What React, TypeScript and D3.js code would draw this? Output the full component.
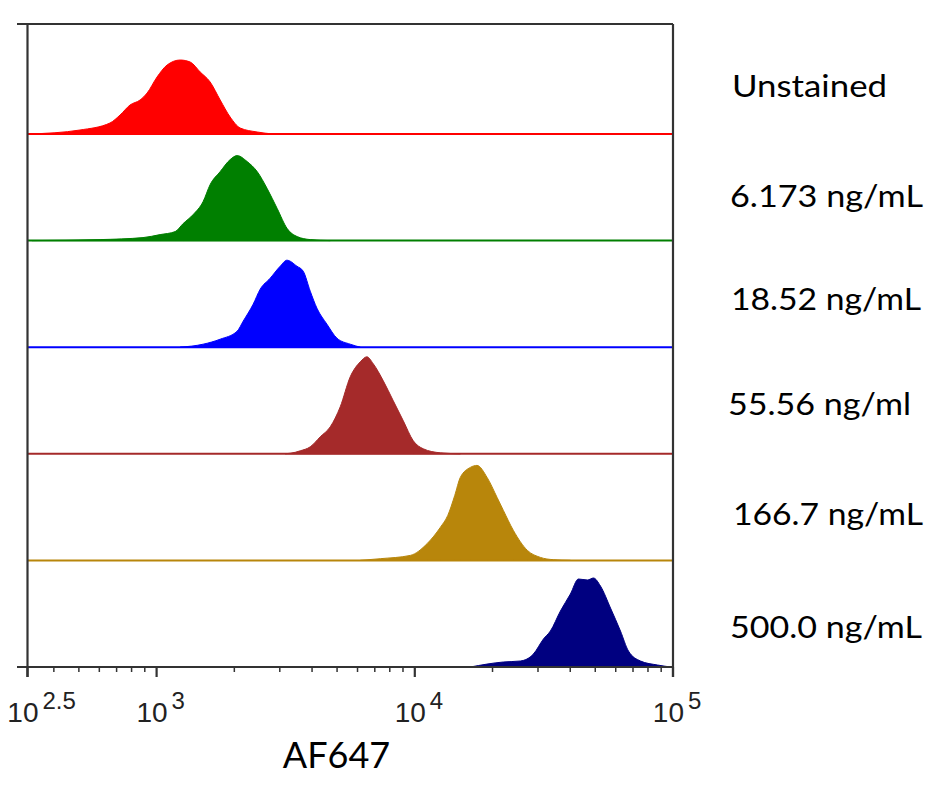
import React from "react";
import * as d3 from "d3";

// ---- data (AF647 intensity, relative count) ----
const categories = ["Unstained", "6.173 ng/mL", "18.52 ng/mL", "55.56 ng/ml", "166.7 ng/mL", "500.0 ng/mL"];
const seriesColors = ["#ff0000", "#007f00", "#0000ff", "#a52a2a", "#b8860b", "#000080"];
const labelWidths = [155, 193, 190, 183, 190, 192];

const unstainedX = [323, 505, 660, 722, 789, 863, 919, 1004, 1098, 1234, 1349, 1475, 1612, 1763, 1927, 2107, 2452, 2829];
const unstainedY = [0, 4, 11, 19, 29, 34, 41, 57, 69, 74, 72, 62, 52, 34, 17, 6, 2, 0];

const c6X = [329, 604, 886, 1032, 1180, 1267, 1385, 1514, 1612, 1763, 1927, 2051, 2243, 2452, 2681, 2932, 3205, 3504, 3936, 4705];
const c6Y = [0, 1, 3, 6, 9, 17, 26, 39, 56, 69, 81, 85, 79, 69, 52, 32, 12, 4, 1, 0];

const c18X = [1234, 1514, 1763, 2051, 2164, 2366, 2519, 2754, 3011, 3197, 3495, 3697, 3936, 4178, 4568, 4994, 5623, 6149];
const c18Y = [0, 3, 8, 16, 26, 43, 58, 69, 81, 87, 81, 76, 56, 39, 23, 9, 3, 0];

const c55X = [3149, 3442, 3600, 3936, 4303, 4705, 5143, 5623, 6149, 6525, 6905, 7549, 8254, 9024, 9867, 10787, 12553, 15008];
const c55Y = [0, 1.5, 3, 7, 17, 27, 47, 77, 92, 97, 90, 73, 53, 33, 13, 5, 1, 0];

const c166X = [6149, 7350, 9607, 11181, 12553, 13420, 14280, 15008, 16410, 17422, 19050, 20826, 22029, 24087, 27295, 30650, 34420, 40055];
const c166Y = [0, 1.7, 5, 17, 33, 45, 65, 83, 93, 95, 83, 63, 50, 30, 10, 3, 0.7, 0];

const c500X = [16410, 22029, 25645, 28797, 31490, 33510, 36645, 40055, 43030, 46630, 49180, 52360, 57270, 62590, 67210, 74820, 87100, 97800];
const c500Y = [0, 5, 6, 13, 28, 36, 56, 73, 88, 87, 89, 81, 59, 36, 16, 6, 2, 0];

const seriesX = [unstainedX, c6X, c18X, c55X, c166X, c500X];
const seriesY = [unstainedY, c6Y, c18Y, c55Y, c166Y, c500Y];

const majorTicks = [Math.pow(10, 2.5), 1e3, 1e4, 1e5];
const majorExponents = ["2.5", "3", "4", "5"];
const axisTitle = "AF647";

export default function App() {
  const W = 948, H = 805;
  const left = 27.5, right = 673, top = 24, bottom = 667;
  const laneStep = 106.6;
  const axisColor = "#333";

  const x = d3.scaleLog().domain([Math.pow(10, 2.5), 1e5]).range([left, right]);
  const yCount = d3.scaleLinear().domain([0, 100]).range([0, 100]);

  const minorTicks = x.ticks().filter(
    (t) => !majorTicks.some((m) => Math.abs(Math.log10(m) - Math.log10(t)) < 1e-6)
  );

  const baselines = categories.map((_, i) => bottom - (categories.length - 1 - i) * laneStep);

  return (
    <svg width={W} height={H} style={{ position: "absolute", left: 0, top: 0, background: "#fff" }}>
      <rect x={0} y={0} width={W} height={H} fill="#fff" />
      {categories.map((cat, i) => {
        const b = baselines[i];
        const pts = seriesX[i].map((v, k) => [v, seriesY[i][k]] as [number, number]);
        const area = d3
          .area<[number, number]>()
          .x((d) => x(d[0]))
          .y0(b)
          .y1((d) => b - yCount(d[1]))
          .curve(d3.curveMonotoneX);
        return (
          <g key={cat}>
            <line x1={left} x2={right} y1={b} y2={b} stroke={seriesColors[i]} strokeWidth={2} />
            <path d={area(pts) || ""} fill={seriesColors[i]} stroke={seriesColors[i]} strokeWidth={1} />
          </g>
        );
      })}
      {/* frame */}
      <line x1={17} x2={right} y1={top} y2={top} stroke={axisColor} strokeWidth={2.2} />
      <line x1={right} x2={right} y1={top} y2={bottom + 10} stroke={axisColor} strokeWidth={2.2} />
      <line x1={left} x2={left} y1={top} y2={bottom + 10} stroke={axisColor} strokeWidth={2.2} />
      <line x1={17} x2={right} y1={bottom} y2={bottom} stroke={axisColor} strokeWidth={2.2} />
      {majorTicks.map((t) => (
        <line key={"M" + t} x1={x(t)} x2={x(t)} y1={bottom} y2={bottom + 10} stroke={axisColor} strokeWidth={2.2} />
      ))}
      {minorTicks.map((t) => (
        <line key={"m" + t} x1={x(t)} x2={x(t)} y1={bottom} y2={bottom + 5} stroke={axisColor} strokeWidth={1.5} />
      ))}
      {majorTicks.map((t, i) => (
        <g key={"L" + t} fill="#222" fontFamily="'Liberation Sans', Arial, sans-serif">
          <text x={x(t) + 11} y={722} fontSize={28} textAnchor="end">10</text>
          <text x={x(t) + 15} y={709} fontSize={24} textAnchor="start">{majorExponents[i]}</text>
        </g>
      ))}
      <text x={336.5} y={768} fontSize={36} textAnchor="middle" fontFamily="Lato, sans-serif" fill="#000">
        {axisTitle}
      </text>
      {categories.map((cat, i) => {
        const ys = [97, 207, 310, 415, 525, 638];
        const xs = [732, 730, 731, 728, 733, 730];
        return (
          <text
            key={"c" + cat}
            x={xs[i]}
            y={ys[i]}
            fontSize={31}
            fontFamily="Lato, sans-serif"
            fill="#000"
            textLength={labelWidths[i]}
            lengthAdjust="spacingAndGlyphs"
          >
            {cat}
          </text>
        );
      })}
    </svg>
  );
}
